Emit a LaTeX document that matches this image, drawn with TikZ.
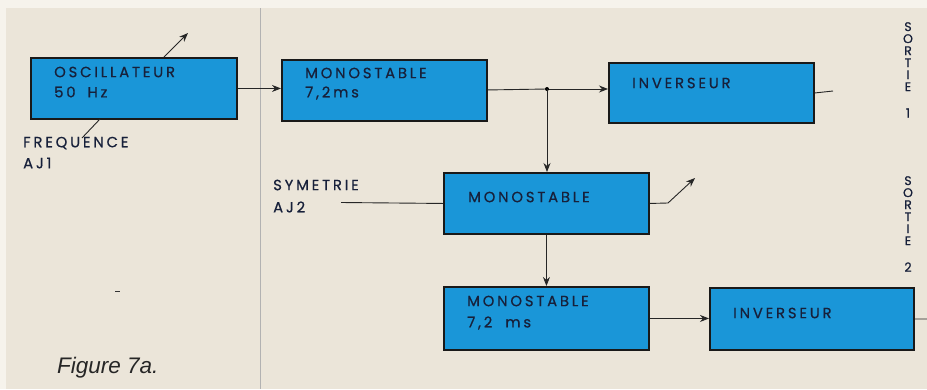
\documentclass[tikz,border=0pt]{standalone}
\usepackage{fontspec}
\setmainfont{Poppins}[LetterSpace=19,FakeBold=0.6]
\newfontfamily\figfont{Liberation Sans}
\usetikzlibrary{arrows.meta,calc}
\definecolor{paper}{HTML}{EBE5D9}
\definecolor{paperlight}{HTML}{F6F3EC}
\definecolor{boxblue}{HTML}{1A96D8}
\definecolor{ink}{HTML}{17203A}
\begin{document}
\begin{tikzpicture}[x=1pt,y=-1pt,
  blockbox/.style={draw=black!90,line width=1.9pt,fill=boxblue,anchor=north west,inner sep=0pt},
  lbl/.style={anchor=west,inner sep=0pt,text=ink,font=\fontsize{14.8}{16}\selectfont},
  wire/.style={draw=black!85,line width=0.9pt},
  arr/.style={wire,-{Stealth[length=9pt,width=7pt]}},
  vlbl/.style={inner sep=0pt,text=ink,align=center,font=\fontsize{12.5}{12}\selectfont}]
% background
\fill[paper] (0,0) rectangle (927,389);
\fill[paperlight] (0,0) rectangle (927,8);
\fill[paperlight] (0,0) rectangle (6,389);
\draw[black!30,line width=0.6pt] (260,8) -- (260,389);
\useasboundingbox (0,0) rectangle (927,389);
% blocks
\node[blockbox,minimum width=206,minimum height=61] (osc) at (30,57) {};
\node[blockbox,minimum width=205,minimum height=61] (mono1) at (281,59) {};
\node[blockbox,minimum width=205,minimum height=60] (inv1) at (608,62) {};
\node[blockbox,minimum width=205,minimum height=61] (mono2) at (443,172) {};
\node[blockbox,minimum width=205,minimum height=63] (mono3) at (443,286) {};
\node[blockbox,minimum width=204,minimum height=62] (inv2) at (709,287) {};
% block texts
\node[lbl] (t1) at (54,72) {OSCILLATEUR};
\node[lbl] (t2) at (54,92) {50\hspace{12pt}Hz};
\node[lbl] (t3) at (305,73) {MONOSTABLE};
\node[lbl] (t4) at (305,93) {7,2ms};
\node[lbl] (t5) at (632,83) {INVERSEUR};
\node[lbl] (t6) at (468,197) {MONOSTABLE};
\node[lbl] (t7) at (467,301) {MONOSTABLE};
\node[lbl] (t8) at (467,323) {7,2\hspace{13pt}ms};
\node[lbl] (t9) at (733,313) {INVERSEUR};
% outside labels
\node[lbl] (fr) at (23,143) {FREQUENCE};
\node[lbl] (aj1) at (23,163) {AJ1};
\node[lbl] (sy) at (273,185) {SYMETRIE};
\node[lbl] (aj2) at (273,207) {AJ2};
\node[vlbl,anchor=north] (s1) at (908,22) {S\\O\\R\\T\\I\\E};
\node[vlbl] (s1n) at (908,113) {1};
\node[vlbl,anchor=north] (s2) at (908,176) {S\\O\\R\\T\\I\\E};
\node[vlbl] (s2n) at (908,267) {2};
\node[anchor=west,inner sep=0pt,text=black!85,font=\figfont\itshape\fontsize{22.5}{24}\selectfont] (fig) at (57,368) {Figure 7a.};
% coordinates
\coordinate (j) at (547,89);
\coordinate (out1) at (833,91);
\coordinate (out2) at (927,319);
\coordinate (in2) at (341,202.5);
\coordinate (k2) at (668,203);
\coordinate (p2) at (695,178);
\coordinate (oa) at (164,57);
\coordinate (ob) at (188,33);
\coordinate (fa) at (100,119);
\coordinate (fb) at (82,138);
\coordinate (dash1) at (115,291);
\coordinate (dash2) at (120,291);
% connectors
\draw[arr] (osc.east) -- (osc.east -| mono1.west);
\draw[wire] ($(mono1.east)+(0,-0.5)$) -- (j);
\draw[arr] (j) -- (j -| inv1.west);
\fill[black] (j) circle (2pt);
\draw[arr] (j) -- (j |- mono2.north);
\draw[arr] (mono2.south) -- (mono3.north);
\draw[arr] (mono3.east) -- (mono3.east -| inv2.west);
\draw[wire] (inv1.east) -- (out1);
\draw[wire] (inv2.east) -- (out2);
\draw[wire] (in2) -- (mono2.west);
\draw[wire] (mono2.east) -- (k2);
\draw[arr] (k2) -- (p2);
\draw[arr] (oa) -- (ob);
\draw[wire] (fa) -- (fb);
\draw[black!80,line width=1pt] (dash1) -- (dash2);
\end{tikzpicture}
\end{document}
